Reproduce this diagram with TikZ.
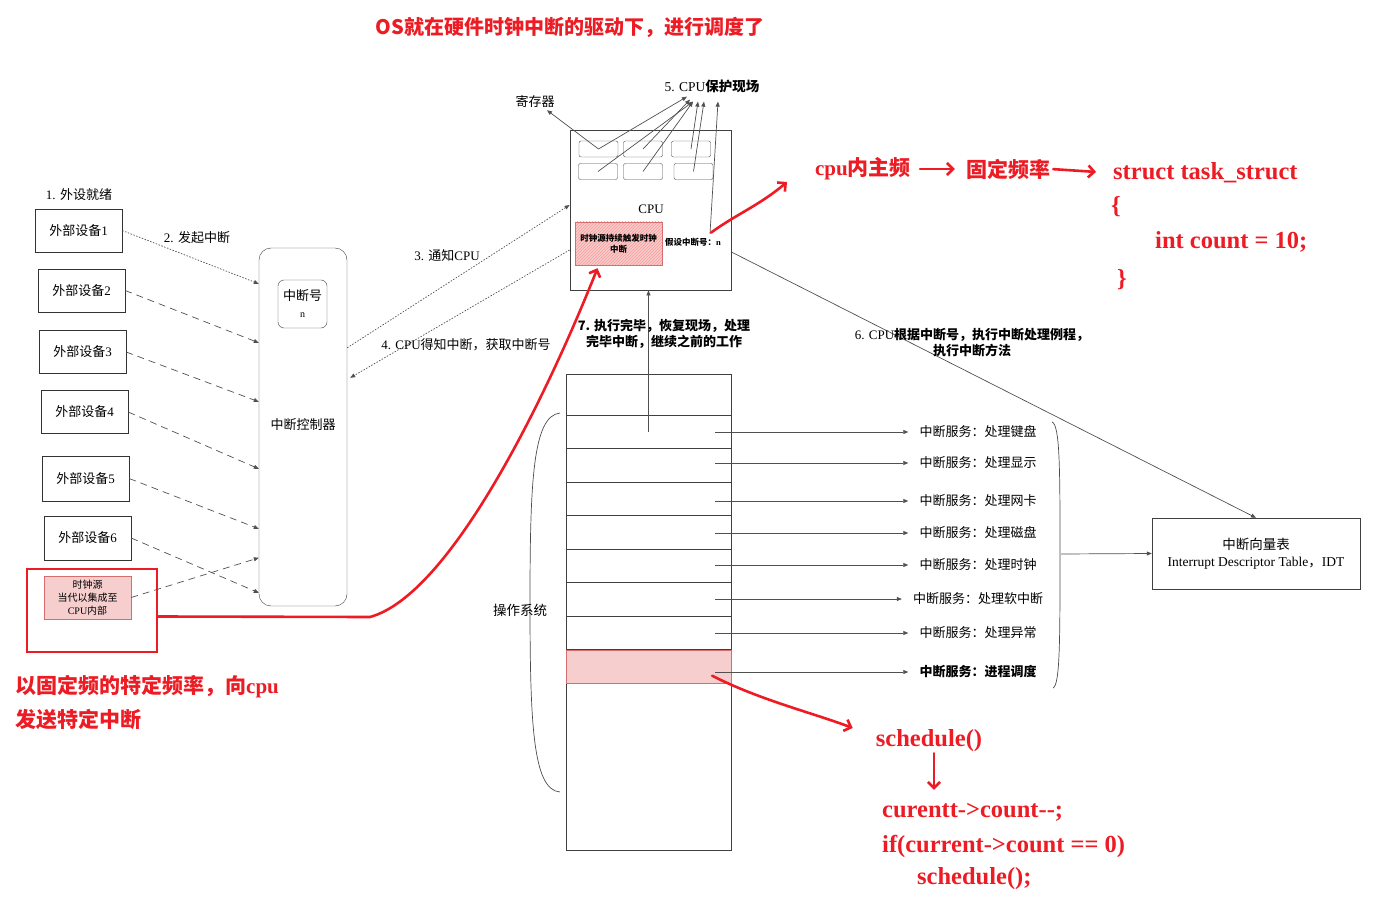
\documentclass[tikz,border=0pt]{standalone}
\usepackage{fontspec}
\setmainfont{Liberation Serif}
\newfontfamily\cjk{Noto Sans CJK SC}
\newcommand{\zh}[1]{{\cjk #1}}
\usepackage{tikz}
\usetikzlibrary{arrows.meta, positioning, calc, patterns}
\definecolor{penred}{RGB}{237,28,36}
\definecolor{clkpink}{RGB}{246,206,206}
\definecolor{clkline}{RGB}{214,110,110}
\definecolor{linegray}{RGB}{80,80,80}
\tikzset{
    lbl/.style={font=\fontsize{13}{16}\selectfont, align=center, inner sep=1pt},
    devbox/.style={rectangle, draw=black!80, minimum width=87pt, minimum height=43pt,
                   font=\fontsize{13}{16}\selectfont},
    regbox/.style={rectangle, rounded corners=2pt, draw=black!70, minimum width=39pt, minimum height=16pt},
    oprow/.style={rectangle, draw=black!75, minimum width=165pt, minimum height=33.5pt},
    svclbl/.style={font=\fontsize{13}{16}\selectfont, inner sep=2pt},
    arr/.style={-{Triangle[length=5pt,width=4pt]}, draw=linegray, line width=0.7pt},
    dasharr/.style={arr, dash pattern=on 7pt off 5pt},
    dotarr/.style={arr, dash pattern=on 1.5pt off 1.5pt},
    redpen/.style={draw=penred, line width=2.6pt, line cap=round,
                   -{Straight Barb[length=6pt,width=12pt]}},
    redtxt/.style={text=penred, font=\bfseries\fontsize{21}{25}\selectfont, inner sep=1pt},
    redcode/.style={text=penred, font=\bfseries\fontsize{24.5}{28}\selectfont, inner sep=1pt, anchor=west},
}

\begin{document}
\begin{tikzpicture}[x=1pt, y=-1pt]
    \useasboundingbox (0,0) rectangle (1376,901);
    % title
    \node[redtxt, font=\bfseries\fontsize{20}{24}\selectfont] (title) at (570,27) {\zh{OS就在硬件时钟中断的驱动下，进行调度了}};

    % CPU
    \node[draw=black!75, line width=0.8pt, minimum width=161pt, minimum height=160pt] (cpu) at (650.5,210) {};
    \node[lbl] (cpulbl) at (651,209) {CPU};
    \node[regbox] (r1) at (598.5,149) {};
    \node[regbox] (r2) at (643,149) {};
    \node[regbox] (r3) at (691,149) {};
    \node[regbox] (r4) at (598,171.5) {};
    \node[regbox] (r5) at (643,171.5) {};
    \node[regbox] (r6) at (693.5,171.5) {};
    \node[draw=clkline, preaction={fill=clkpink}, pattern=north east lines, pattern color=red!40,
          minimum width=87pt, minimum height=43pt, align=center,
          font=\bfseries\fontsize{8.5}{11}\selectfont] (clk) at (618.5,243.5) {\zh{时钟源持续触发时钟}\\\zh{中断}};
    \node[font=\bfseries\fontsize{8.5}{10}\selectfont, inner sep=1pt] (irqn) at (693,242) {\zh{假设中断号：}n};
    \node[lbl, font=\fontsize{13.5}{16}\selectfont] (save) at (712,86) {5. CPU\zh{\bfseries 保护现场}};
    \node[lbl] (reg) at (535,102) {\zh{寄存器}};
    \draw[arr] (r1.center) -- ([xshift=-25pt,yshift=-3pt]save.south);
    \draw[arr] (r2.center) -- ([xshift=-22pt,yshift=-6pt]save.south);
    \draw[arr] (r4.center) -- ([xshift=-19pt,yshift=-8pt]save.south);
    \draw[arr] (r5.center) -- ([xshift=-19pt,yshift=-8pt]save.south);
    \draw[arr] (r3.center) -- ([xshift=-14pt,yshift=-8pt]save.south);
    \draw[arr] (r6.center) -- ([xshift=-8pt,yshift=-8pt]save.south);
    \draw[arr] ([xshift=17pt,yshift=3pt]irqn.north) -- ([xshift=6pt,yshift=-8pt]save.south);
    \draw[arr] (r1.center) -- ([xshift=12pt,yshift=-1pt]reg.south);

    % devices
    \node[lbl] (ready) at (79,195) {1. \zh{外设就绪}};
    \node[devbox] (dev1) at (78.5,230.5) {\zh{外部设备}1};
    \node[devbox] (dev2) at (81.5,290.5) {\zh{外部设备}2};
    \node[devbox] (dev3) at (82.5,352) {\zh{外部设备}3};
    \node[devbox] (dev4) at (84.5,412) {\zh{外部设备}4};
    \node[devbox, minimum height=45pt] (dev5) at (85.5,478.5) {\zh{外部设备}5};
    \node[devbox, minimum height=44pt] (dev6) at (87.5,538) {\zh{外部设备}6};
    \node[devbox, fill=clkpink, draw=clkline, align=center, font=\fontsize{10}{13}\selectfont] (clksrc) at (87.5,597.5) {\zh{时钟源}\\\zh{当代以集成至}\\CPU\zh{内部}};
    \node[draw=penred, line width=2.6pt, minimum width=130pt, minimum height=83pt] (clkframe) at (92,610.5) {};

    % interrupt controller
    \node[draw=black!75, rounded corners=12pt, minimum width=88pt, minimum height=358pt] (ctrl) at (303,427) {};
    \node[lbl] (ctrllbl) at (303,425) {\zh{中断控制器}};
    \node[draw=black!75, rounded corners=6pt, minimum width=49pt, minimum height=48pt, align=center,
          font=\fontsize{13}{16}\selectfont] (irqno) at (302.5,304) {\zh{中断号}\\[1pt]{\fontsize{10}{12}\selectfont n}};
    \node[lbl] (irqlbl) at (197,238) {2. \zh{发起中断}};
    \draw[dotarr] (dev1.east) -- ([yshift=-36pt]ctrl.north west);
    \draw[dasharr] (dev2.east) -- ([yshift=-95pt]ctrl.north west);
    \draw[dasharr] (dev3.east) -- ([yshift=-154pt]ctrl.north west);
    \draw[dasharr] (dev4.east) -- ([yshift=-221pt]ctrl.north west);
    \draw[dasharr] (dev5.east) -- ([yshift=-281pt]ctrl.north west);
    \draw[dasharr] (dev6.east) -- ([yshift=-345pt]ctrl.north west);
    \draw[dasharr] (clksrc.east) -- ([yshift=-310pt]ctrl.north west);

    \draw[dotarr] ([yshift=-100pt]ctrl.north east) -- ([yshift=5pt]cpu.west);
    \node[lbl] (notify) at (447,256) {3. \zh{通知}CPU};
    \draw[dotarr] ([yshift=-40pt]cpu.west) -- ([xshift=3pt,yshift=-130pt]ctrl.north east);
    \node[lbl] (fetch) at (466,345) {4. CPU\zh{得知中断，获取中断号}};

    % operating system
    \node[draw=black!75, minimum width=165pt, minimum height=476pt] (os) at (648.5,612) {};
    \foreach \i in {1,...,7}
        \node[oprow] (row\i) at (648.5,{415+33.5*\i-16.75}) {};
    \node[oprow, fill=clkpink, draw=clkline] (row8) at (648.5,666.75) {};
    \draw[draw=black!70, line width=0.7pt] (560,413) .. controls (533,416) and (530,480) .. (530,602)
        .. controls (530,725) and (533,790) .. (560,792);
    \node[lbl, font=\fontsize{13.5}{16}\selectfont] (oslbl) at (520,610) {\zh{操作系统}};

    \foreach \i/\y/\t in {1/432/键盘, 2/463/显示, 3/501/网卡, 4/533/磁盘, 5/565/时钟, 6/599/软中断, 7/633/异常}
        \node[svclbl] (svc\i) at (978,\y) {\zh{中断服务：处理\t}};
    \node[svclbl, font=\bfseries\fontsize{13}{16}\selectfont] (svc8) at (978,672) {\zh{中断服务：进程调度}};
    \foreach \i in {1,...,8}
        \draw[arr, shorten >=9pt] ($(row\i.east |- svc\i)+(-16,0)$) -- (svc\i.west);

    \draw[draw=black!70, line width=0.7pt] (1052,422) .. controls (1060,425) and (1060,470) .. (1060,554)
        .. controls (1060,640) and (1060,685) .. (1053,688);
    \coordinate (bracetip) at (1061,554);
    \node[draw=black!75, minimum width=208pt, minimum height=71pt, align=center,
          font=\fontsize{13.5}{17}\selectfont] (idt) at (1256,553.5)
          {\zh{中断向量表}\\{\fontsize{13.5}{15}\selectfont Interrupt Descriptor Table\zh{，}IDT}};
    \draw[arr] (bracetip) -- (idt.west);

    \draw[arr] ([yshift=-42pt]cpu.east) -- (idt.north);
    \node[lbl] (routine) at (972,343) {6. CPU\zh{\bfseries 根据中断号，执行中断处理例程，}\\\zh{\bfseries 执行中断方法}};
    \draw[arr] (row1.center) -- (row1.center |- cpu.south);
    \node[lbl, font=\bfseries\fontsize{13}{16}\selectfont] (resume) at (664,334) {\zh{7. 执行完毕，恢复现场，处理}\\\zh{完毕中断，继续之前的工作}};

    % red notes
    \draw[redpen] ([yshift=-6pt]clkframe.east) -- (370,617) .. controls (450,595) and (545,400) .. ([xshift=-21pt,yshift=-3pt]clk.south);
    \node[redtxt] (freq) at (863,169) {cpu\zh{内主频}};
    \node[redtxt] (fixed) at (1008,169) {\zh{固定频率}};
    \node[redcode] (tstruct) at (1112,173) {struct task\_struct};
    \node[redcode] (lbrace) at (1110,207) {\{};
    \node[redcode] (cntinit) at (1154,242) {int count = 10;};
    \node[redcode] (rbrace) at (1116,280) {\}};
    \draw[redpen, shorten <=8pt, shorten >=10pt] (freq.east) -- (fixed.west);
    \draw[redpen, shorten <=2pt, shorten >=16pt] (fixed.east) -- (tstruct.west);
    \draw[redpen] ([xshift=18pt,yshift=4pt]irqn.north) .. controls (735,215) and (760,205) .. ([xshift=-27pt,yshift=-13pt]freq.west);

    \node[redcode, anchor=center] (sched) at (929,741) {schedule()};
    \draw[redpen] ([xshift=-19pt,yshift=-9pt]row8.east) .. controls (760,700) and (810,712) .. ([xshift=-22pt,yshift=13pt]sched.west);
    \node[redcode] (cnt) at (881,812) {curentt->count-{}-;};
    \node[redcode] (cond) at (881,846) {if(current->count == 0)};
    \node[redcode] (resched) at (916,879) {schedule();};
    \draw[redpen, shorten >=12pt] ([xshift=5pt]sched.south) -- ([xshift=5pt]sched.south |- cnt.north);

    \node[redtxt, anchor=west, align=left, font=\bfseries\fontsize{21}{34}\selectfont] (clknote) at (14,702) {\zh{以固定频的特定频率，向}cpu\\\zh{发送特定中断}};
\end{tikzpicture}
\end{document}
